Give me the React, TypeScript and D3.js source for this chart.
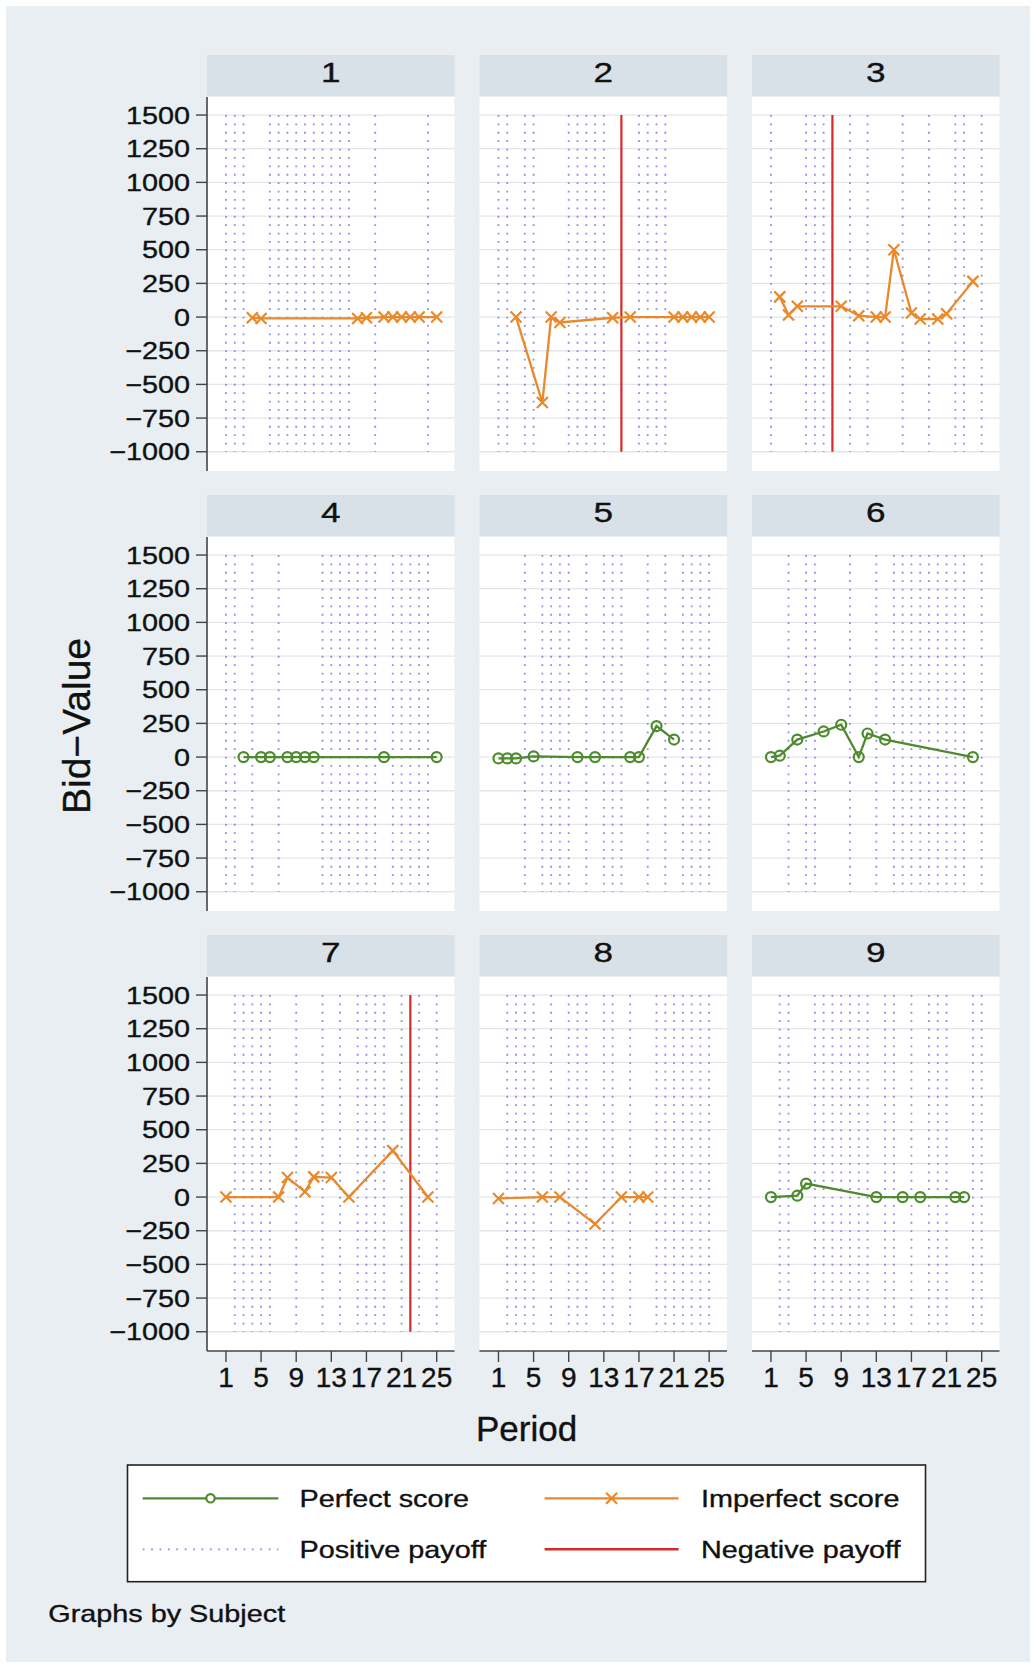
import React from 'react';
import * as d3 from 'd3';

// Bid-Value by period, one panel per subject
const subjects = [1, 2, 3, 4, 5, 6, 7, 8, 9];
const scoreType = ['imperfect', 'imperfect', 'imperfect', 'perfect', 'perfect', 'perfect', 'imperfect', 'imperfect', 'perfect'];

const bidPeriods = [
  [4, 5, 16, 17, 19, 20, 21, 22, 23, 25],
  [3, 6, 7, 8, 14, 16, 21, 22, 23, 24, 25],
  [2, 3, 4, 9, 11, 13, 14, 15, 17, 18, 20, 21, 24],
  [3, 5, 6, 8, 9, 10, 11, 19, 25],
  [1, 2, 3, 5, 10, 12, 16, 17, 19, 21],
  [1, 2, 4, 7, 9, 11, 12, 14, 24],
  [1, 7, 8, 10, 11, 13, 15, 20, 24],
  [1, 6, 8, 12, 15, 17, 18],
  [1, 4, 5, 13, 16, 18, 22, 23],
];
const bidValues = [
  [-5, -10, -10, -5, 0, 0, 0, 0, 0, 0],
  [0, -635, 0, -40, -5, 0, 0, 0, 0, 0, 0],
  [150, 15, 80, 80, 10, 0, 0, 500, 30, -15, -15, 25, 265],
  [0, 0, 0, 0, 0, 0, 0, 0, 0],
  [-10, -10, -10, 5, 0, 0, 0, 0, 230, 130],
  [0, 10, 130, 190, 240, 0, 175, 130, 0],
  [0, 0, 145, 40, 150, 145, 0, 345, 0],
  [-10, 0, 0, -200, 0, 0, 0],
  [0, 10, 100, 0, 0, 0, 0, 0],
];
const positivePayoff = [
  [1, 2, 3, 6, 7, 8, 9, 10, 11, 12, 13, 14, 15, 18, 24],
  [1, 2, 4, 5, 9, 10, 11, 12, 13, 17, 18, 19, 20],
  [1, 5, 6, 7, 10, 12, 16, 19, 22, 23, 25],
  [1, 2, 4, 7, 12, 13, 14, 15, 16, 17, 18, 20, 21, 22, 23, 24],
  [4, 6, 7, 8, 9, 11, 13, 14, 15, 18, 20, 22, 23, 24, 25],
  [3, 5, 6, 10, 13, 15, 16, 17, 18, 19, 20, 21, 22, 23, 25],
  [2, 3, 4, 5, 6, 9, 12, 14, 16, 17, 18, 19, 21, 23, 25],
  [2, 3, 4, 5, 7, 9, 10, 11, 13, 14, 16, 19, 20, 21, 22, 23, 24, 25],
  [2, 3, 6, 7, 8, 9, 10, 11, 12, 14, 15, 17, 19, 20, 21, 24, 25],
];
const negativePayoff = [[], [15], [8], [], [], [], [22], [], []];

const periodTicks = [1, 5, 9, 13, 17, 21, 25];
const valueTicks = [1500, 1250, 1000, 750, 500, 250, 0, -250, -500, -750, -1000];

const FONT = '"Liberation Sans", Arial, Helvetica, sans-serif';
const BG = '#e9eef2';
const STRIP = '#d8e1e8';
const GREEN = '#4e8a2e';
const ORANGE = '#e8892c';
const RED = '#d42a2a';
const DOT = '#8c8ce4';

const fmt = (v: number) => (v < 0 ? '\u2212' + Math.abs(v) : String(v));

const T: React.FC<{ x: number; y: number; size: number; sx?: number; anchor?: string; rotate?: number; children: React.ReactNode }> = ({ x, y, size, sx = 1, anchor = 'middle', rotate = 0, children }) => (
  <text
    transform={`translate(${x},${y}) rotate(${rotate}) scale(${sx},1)`}
    textAnchor={anchor}
    fontFamily={FONT}
    fontSize={size}
    fill="#111"
    stroke="#111"
    strokeWidth={0.35}
  >
    {children}
  </text>
);

const XMark = ({ cx, cy, color }: { cx: number; cy: number; color: string }) => (
  <path d={`M${cx - 5.5},${cy - 5.5}L${cx + 5.5},${cy + 5.5}M${cx - 5.5},${cy + 5.5}L${cx + 5.5},${cy - 5.5}`} stroke={color} strokeWidth={2.2} fill="none" />
);

export default function App() {
  const width = 1036;
  const height = 1668;
  const colLeft = [207, 479.5, 752];
  const rowTop = [97, 537, 977];
  const plotW = 247.5;
  const plotH = 374;

  const x = d3.scaleLinear().domain([-1.16, 27.03]).range([0, plotW]);
  const y = d3.scaleLinear().domain([-1143, 1634]).range([plotH, 0]);
  const line = d3.line<[number, number]>().x(d => x(d[0])).y(d => y(d[1]));

  return (
    <svg width={width} height={height} style={{ position: 'absolute', left: 0, top: 0, display: 'block' }}>
      <rect x={0} y={0} width={width} height={height} fill="#ffffff" />
      <rect x={6} y={6} width={width - 12} height={height - 12} fill={BG} />

      {subjects.map((s, i) => {
        const col = i % 3;
        const row = Math.floor(i / 3);
        const left = colLeft[col];
        const top = rowTop[row];
        const pts: [number, number][] = bidPeriods[i].map((p, k) => [p, bidValues[i][k]]);
        const perfect = scoreType[i] === 'perfect';
        const color = perfect ? GREEN : ORANGE;
        return (
          <g key={s} transform={`translate(${left},${top})`}>
            <rect x={0} y={-42} width={plotW} height={41} fill={STRIP} />
            <T x={plotW / 2} y={-15.5} size={27} sx={1.3}>{s}</T>
            <rect x={0} y={0} width={plotW} height={plotH} fill="#ffffff" />
            {valueTicks.map(v => (
              <line key={v} x1={0} x2={plotW} y1={y(v)} y2={y(v)} stroke="#e2e7eb" strokeWidth={1.3} />
            ))}
            {positivePayoff[i].map(p => (
              <line key={'p' + p} x1={x(p)} x2={x(p)} y1={y(1500)} y2={y(-1000)} stroke={DOT} strokeWidth={1.8} strokeDasharray="1.8 6.6" />
            ))}
            {negativePayoff[i].map(p => (
              <line key={'n' + p} x1={x(p)} x2={x(p)} y1={y(1500)} y2={y(-1000)} stroke={RED} strokeWidth={2.2} />
            ))}
            <path d={line(pts) || ''} fill="none" stroke={color} strokeWidth={2.3} />
            {pts.map((d, k) =>
              perfect ? (
                <circle key={k} cx={x(d[0])} cy={y(d[1])} r={5} fill="none" stroke={GREEN} strokeWidth={2.2} />
              ) : (
                <XMark key={k} cx={x(d[0])} cy={y(d[1])} color={ORANGE} />
              )
            )}
            {col === 0 && (
              <g>
                <line x1={0} x2={0} y1={0} y2={plotH} stroke="#444" strokeWidth={1.6} />
                {valueTicks.map(v => (
                  <g key={v}>
                    <line x1={-11} x2={0} y1={y(v)} y2={y(v)} stroke="#444" strokeWidth={1.4} />
                    <T x={-17} y={y(v) + 8.5} size={24} sx={1.2} anchor="end">{fmt(v)}</T>
                  </g>
                ))}
              </g>
            )}
            {row === 2 && (
              <g>
                <line x1={0} x2={plotW} y1={plotH} y2={plotH} stroke="#444" strokeWidth={1.6} />
                {periodTicks.map(p => (
                  <g key={p}>
                    <line x1={x(p)} x2={x(p)} y1={plotH} y2={plotH + 11} stroke="#444" strokeWidth={1.4} />
                    <T x={x(p)} y={plotH + 36} size={28}>{p}</T>
                  </g>
                ))}
              </g>
            )}
          </g>
        );
      })}

      <T x={90} y={726} size={39} rotate={-90}>Bid{'\u2212'}Value</T>
      <T x={526.5} y={1441} size={35}>Period</T>

      <g>
        <rect x={127.5} y={1465} width={798} height={116.7} fill="#ffffff" stroke="#222" strokeWidth={1.6} />
        <line x1={142.7} x2={278.3} y1={1498.3} y2={1498.3} stroke={GREEN} strokeWidth={2.3} />
        <circle cx={210.5} cy={1498.3} r={4.2} fill="#ffffff" stroke={GREEN} strokeWidth={2.2} />
        <T x={299.5} y={1507} size={24} sx={1.2} anchor="start">Perfect score</T>
        <line x1={544.6} x2={678.6} y1={1498.3} y2={1498.3} stroke={ORANGE} strokeWidth={2.3} />
        <XMark cx={611.6} cy={1498.3} color={ORANGE} />
        <T x={701} y={1507} size={24} sx={1.2} anchor="start">Imperfect score</T>
        <line x1={142.7} x2={278.3} y1={1549.3} y2={1549.3} stroke={DOT} strokeWidth={1.8} strokeDasharray="1.8 6.6" />
        <T x={299.5} y={1558} size={24} sx={1.2} anchor="start">Positive payoff</T>
        <line x1={544.6} x2={678.6} y1={1549.3} y2={1549.3} stroke={RED} strokeWidth={2.4} />
        <T x={701} y={1558} size={24} sx={1.2} anchor="start">Negative payoff</T>
      </g>

      <T x={48.3} y={1622} size={24} sx={1.2} anchor="start">Graphs by Subject</T>
    </svg>
  );
}
